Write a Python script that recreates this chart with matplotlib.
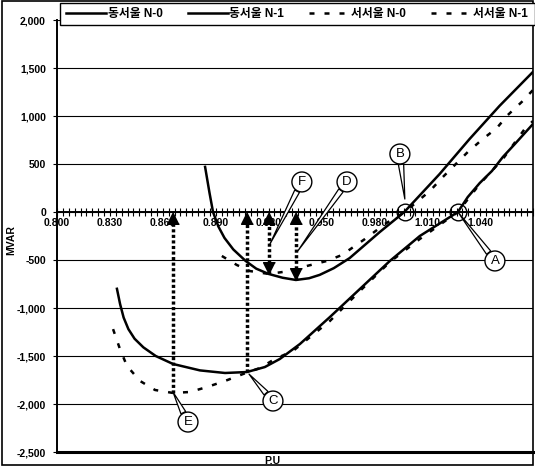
import matplotlib
matplotlib.use('Agg')
import matplotlib.pyplot as plt
from matplotlib.patches import Rectangle
from matplotlib.ticker import FixedLocator, FuncFormatter, MultipleLocator

plt.rcParams['font.family'] = ['Liberation Sans', 'Noto Sans CJK KR']

# 동서울 N-0
east_n0_pu = [0.884, 0.8865, 0.8885, 0.8915, 0.8950, 0.900, 0.907, 0.913, 0.920, 0.928,
              0.9355, 0.943, 0.949, 0.957, 0.966, 0.983, 0.997, 1.017, 1.034, 1.051, 1.070]
east_n0_mvar = [470, 200, 0, -150, -270, -390, -510, -590, -645, -685,
                -708, -690, -655, -585, -480, -210, 0, 395, 760, 1105, 1460]

# 동서울 N-1
east_n1_pu = [0.834, 0.8358, 0.8378, 0.8405, 0.8440, 0.8490, 0.8560, 0.8658, 0.8811,
              0.8953, 0.9077, 0.9179, 0.9264, 0.9378, 0.9548, 0.9718, 0.9888, 1.0058,
              1.0274, 1.033, 1.0398, 1.0467, 1.0529, 1.0597, 1.070]
east_n1_mvar = [-800, -960, -1100, -1220, -1320, -1410, -1500, -1583, -1650,
                -1677, -1667, -1615, -1531, -1375, -1094, -802, -510, -250,
                0, 156, 302, 427, 573, 708, 917]

# 서서울 N-0
west_n0_pu = [0.8935, 0.902, 0.9094, 0.920, 0.932, 0.9418, 0.9531, 0.9616, 0.9747,
              0.986, 0.9973, 1.0115, 1.0189, 1.033, 1.0415, 1.0495, 1.0557, 1.0636,
              1.070]
west_n0_mvar = [-458, -552, -615, -645, -615, -562, -510, -448, -281,
                -125, 0, 219, 365, 625, 760, 875, 1010, 1146,
                1271]

# 서서울 N-1
west_n1_pu = [0.8318, 0.8357, 0.8397, 0.8471, 0.8556, 0.8658, 0.8754, 0.8851, 0.8953,
              0.9055, 0.9151, 0.9236, 0.9338, 0.9548, 0.9718, 0.9888, 1.0058, 1.0274,
              1.0398, 1.0529, 1.0653, 1.070]
west_n1_mvar = [-1220, -1427, -1604, -1760, -1854, -1885, -1875, -1823, -1760,
                -1688, -1625, -1531, -1448, -1135, -823, -521, -281, 0,
                292, 552, 865, 948]

# minimum points marked with dotted arrows up to the 0 line
arrow_pu = [0.8658, 0.9077, 0.920, 0.9355]
arrow_mvar = [-1885, -1667, -645, -708]
arrow_down_head = [False, False, True, True]

# callout balloons: label, point, balloon centre
callout_labels = ['A', 'B', 'C', 'D', 'E', 'F']
callout_tip = [(1.0274, 0), (0.9973, 135), (0.9089, -1688),
               (0.9366, -406), (0.8658, -1875), (0.9208, -333)]
callout_box = [(1.0484, -510), (0.9945, 604), (0.9225, -1969),
               (0.9645, 313), (0.8743, -2188), (0.9389, 313)]
crossing_pu = [0.9973, 1.0274]

x_major = [0.800, 0.830, 0.860, 0.890, 0.920, 0.950, 0.980, 1.010, 1.040]

fig = plt.figure(figsize=(5.35, 4.66), dpi=100)
ax = fig.add_axes([57 / 535, 14 / 466, 476 / 535, 432 / 466])

lw = 1.8
ax.plot(east_n0_pu, east_n0_mvar, color='k', lw=lw, label='동서울 N-0', zorder=3)
ax.plot(east_n1_pu, east_n1_mvar, color='k', lw=lw, label='동서울 N-1', zorder=3)
ax.plot(west_n0_pu, west_n0_mvar, color='k', lw=lw, ls=(0, (2, 4)),
        label='서서울 N-0', zorder=3)
ax.plot(west_n1_pu, west_n1_mvar, color='k', lw=lw, ls=(0, (2, 4)),
        label='서서울 N-1', zorder=3)

head_up = [(0, 0), (-0.5, -1), (0.5, -1)]
head_down = [(0, 0), (-0.5, 1), (0.5, 1)]
for x, y, both in zip(arrow_pu, arrow_mvar, arrow_down_head):
    ax.plot([x, x], [y, -120], color='k', lw=2.5, ls=(0, (0.9, 0.7)), zorder=4)
    ax.plot(x, 0, marker=head_up, ms=17, color='k', mec='k', zorder=5)
    if both:
        ax.plot(x, y, marker=head_down, ms=17, color='k', mec='k', zorder=5)

for x in crossing_pu:
    ax.plot(x, 0, marker='o', ms=12, mfc='none', mec='k', mew=1.0, zorder=6)

for lab, tip, box in zip(callout_labels, callout_tip, callout_box):
    ax.annotate(lab, xy=tip, xytext=box, ha='center', va='center', fontsize=9.5,
                bbox=dict(boxstyle='circle,pad=0.3', fc='w', ec='k', lw=1.0),
                arrowprops=dict(arrowstyle='wedge,tail_width=0.4', fc='w', ec='k',
                                lw=0.9, shrinkA=0, shrinkB=0),
                zorder=7)

ax.set_xlim(0.800, 1.070)
ax.set_ylim(-2500, 2000)

ax.yaxis.set_major_locator(MultipleLocator(500))
ax.yaxis.set_major_formatter(FuncFormatter(lambda v, p: f'{int(v):,}'))
ax.xaxis.set_major_locator(FixedLocator(x_major))
ax.xaxis.set_minor_locator(MultipleLocator(0.03 / 9))
ax.xaxis.set_major_formatter(FuncFormatter(lambda v, p: f'{v:.3f}'))

ax.spines['bottom'].set_position(('data', 0))
ax.spines['bottom'].set_linewidth(1.4)
ax.spines['left'].set_linewidth(1.4)
ax.spines['top'].set_visible(False)
ax.spines['right'].set_visible(False)
ax.axhline(-2500, color='k', lw=2.2, clip_on=False, zorder=2)

ax.tick_params(axis='x', which='both', direction='inout', length=6, width=0.8,
               labelsize=7.5, pad=1)
ax.tick_params(axis='y', direction='out', length=3, width=0.8, labelsize=7.5, pad=5)
for t in ax.get_xticklabels() + ax.get_yticklabels():
    t.set_fontweight('bold')
ax.grid(axis='y', color='k', lw=0.8)
ax.set_axisbelow(True)

ax.set_ylabel('MVAR', fontsize=7.5, fontweight='bold')
ax.yaxis.set_label_coords(-(57 - 16) / 476, 0.49)
ax.set_xlabel('P.U', fontsize=7.5, fontweight='bold')
ax.xaxis.set_label_coords((272 - 57) / 476, -0.01)

# legend box across the top of the plot, entries packed to the left
fig.patches.append(Rectangle((60 / 535, 1 - 25 / 466), 475 / 535, 22 / 466,
                             transform=fig.transFigure, fc='w', ec='k', lw=1.0,
                             zorder=4))
handles, labels = ax.get_legend_handles_labels()
fig.legend(handles, labels, loc='center left', ncol=4,
           bbox_to_anchor=(66 / 535, 1 - 14 / 466),
           frameon=False, borderaxespad=0, borderpad=0, handlelength=3.4,
           handletextpad=0.15, columnspacing=2.1,
           prop=dict(size=8.5, weight='bold'))

fig.patches.append(Rectangle((0.003, 0.002), 0.994, 0.995, transform=fig.transFigure,
                             fill=False, ec='k', lw=1.2))

fig.savefig('out.png', dpi=100)
